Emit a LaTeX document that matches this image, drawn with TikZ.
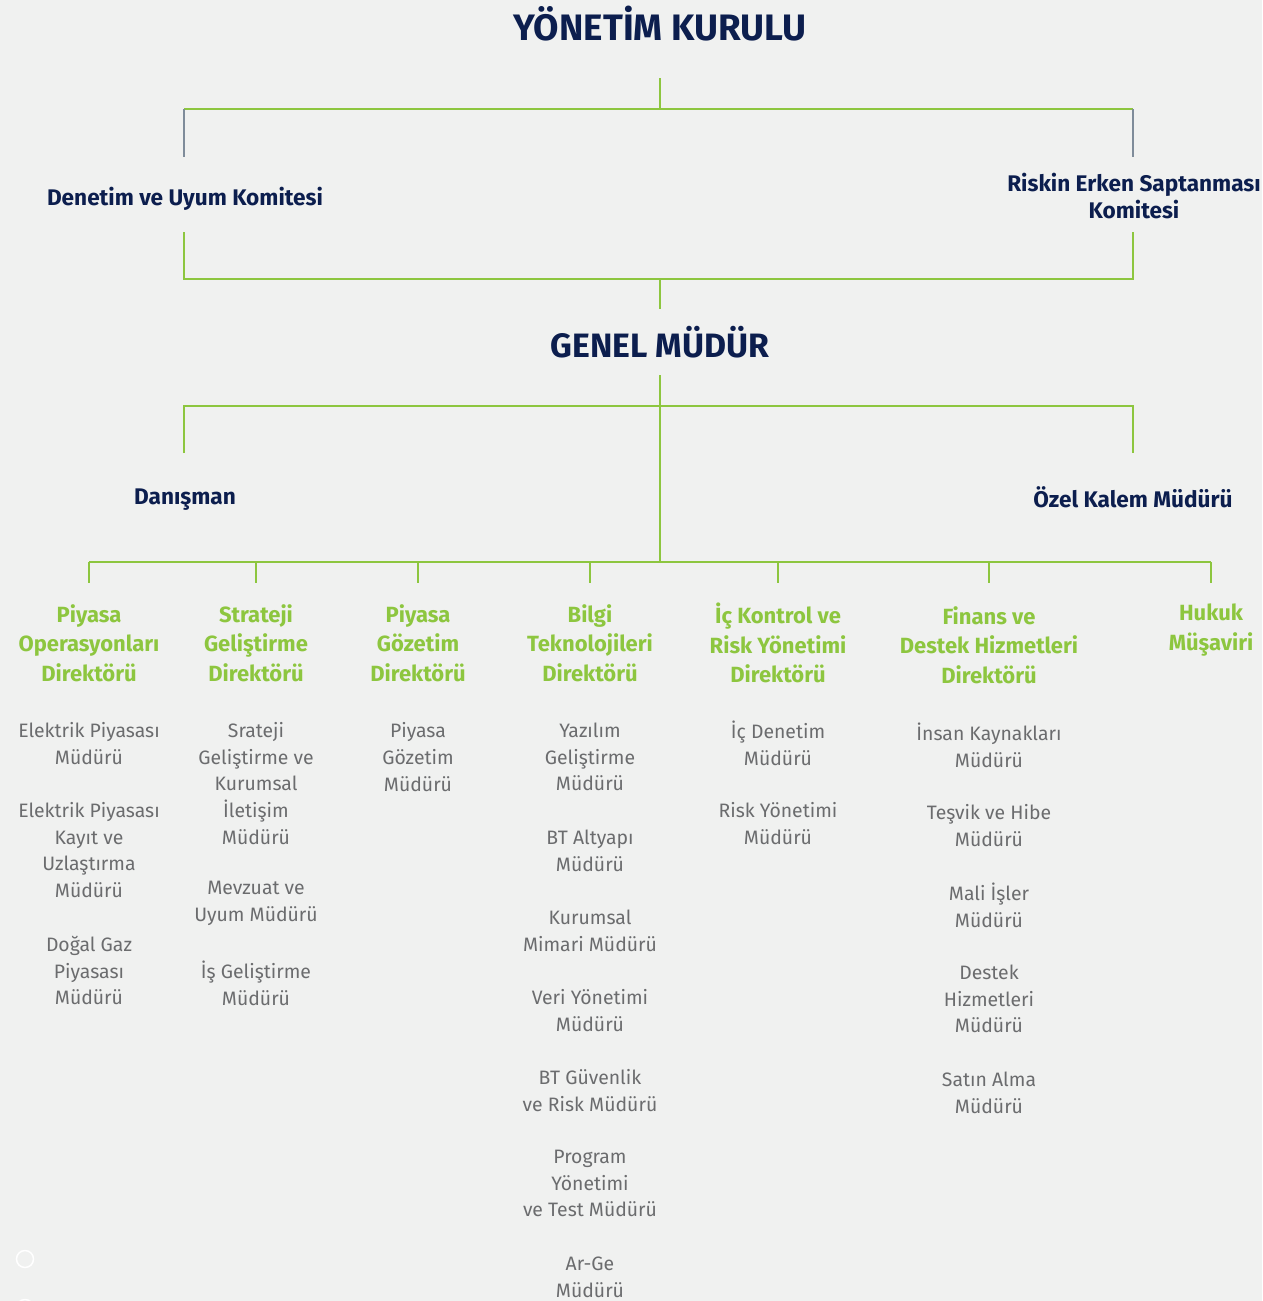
\documentclass[tikz,border=0pt]{standalone}
\usepackage{fontspec}
\setmainfont{Fira Sans}
\usetikzlibrary{positioning}
\definecolor{navy}{HTML}{0C1E4E}
\definecolor{leaf}{HTML}{8DC63F}
\definecolor{slate}{HTML}{7F8C9A}
\definecolor{txtgray}{HTML}{6B6C6E}
\definecolor{bgpaper}{HTML}{F0F1F0}
\tikzset{board node/.style={text=navy,font=\bfseries\fontsize{22.6}{27}\selectfont,align=center,inner sep=0pt},}
\tikzset{director node/.style={text=leaf,font=\bfseries\fontsize{22}{29.5}\selectfont,align=center,inner sep=0pt},}
\tikzset{manager node/.style={text=txtgray,font=\fontsize{19.4}{26.7}\selectfont,align=center,inner sep=0pt},}
\tikzset{green line/.style={draw=leaf,line width=2pt},}
\tikzset{slate line/.style={draw=slate,line width=2pt},}

\begin{document}
\begin{tikzpicture}[x=1pt,y=-1pt]
     \fill[bgpaper] (0,0) rectangle (1262,1301);
     \useasboundingbox (0,0) rectangle (1262,1301);

     % board and committees
     \node[board node,font=\bfseries\fontsize{36.8}{42}\selectfont] (yk) at (660,24) {YÖNETİM KURULU};
     \node[board node] (dk) at (185,199) {Denetim ve Uyum Komitesi};
     \node[board node] (rk) at (1134,196.5) {Riskin Erken Saptanması\\Komitesi};
     \node[board node,font=\bfseries\fontsize{33.8}{38}\selectfont] (gm) at (660,342) {GENEL MÜDÜR};
     \node[board node] (dn) at (185,500) {Danışman};
     \node[board node] (ok) at (1133,497) {Özel Kalem Müdürü};

     \coordinate (yk-s) at (660,78);
     \coordinate (j1) at (660,109);
     \coordinate (dk-n) at (184,157);
     \coordinate (rk-n) at (1133,157);
     \coordinate (dk-s) at (184,232);
     \coordinate (rk-s) at (1133,232);
     \coordinate (j2) at (660,279);
     \coordinate (gm-n) at (660,309);
     \coordinate (gm-s) at (660,375);
     \coordinate (j3) at (660,406);
     \coordinate (dn-n) at (184,453);
     \coordinate (ok-n) at (1133,453);
     \coordinate (bus) at (660,562);

     \path[green line] (yk-s) -- (j1);
     \path[green line] (dk-n |- j1) -- (rk-n |- j1);
     \path[slate line] (dk-n |- j1) -- (dk-n);
     \path[slate line] (rk-n |- j1) -- (rk-n);
     \path[green line] (dk-s) |- (j2) -| (rk-s);
     \path[green line] (j2) -- (gm-n);
     \path[green line] (gm-s) -- (bus);
     \path[green line] (dn-n) |- (j3) -| (ok-n);

     % directors
     \node[director node] (d1) at (89,643) {Piyasa\\Operasyonları\\Direktörü};
     \node[director node] (d2) at (256,643) {Strateji\\Geliştirme\\Direktörü};
     \node[director node] (d3) at (418,643) {Piyasa\\Gözetim\\Direktörü};
     \node[director node] (d4) at (590,643) {Bilgi\\Teknolojileri\\Direktörü};
     \node[director node] (d5) at (778,643) {İç Kontrol ve\\Risk Yönetimi\\Direktörü};
     \node[director node] (d6) at (989,645) {Finans ve\\Destek Hizmetleri\\Direktörü};
     \node[director node] (d7) at (1211,630) {Hukuk\\Müşaviri};

     \foreach \d/\x in {d1/89,d2/256,d3/418,d4/590,d5/778,d6/989,d7/1211}
       \coordinate (\d-top) at (\x,583);
     \path[green line] (d1-top |- bus) -- (d7-top |- bus);
     \foreach \d in {d1,d2,d3,d4,d5,d6,d7}
       \path[green line] (\d-top |- bus) -- (\d-top);

     % managers
     \node[manager node] (m11) at (89,743.5) {Elektrik Piyasası\\Müdürü};
     \node[manager node] (m12) at (89,850) {Elektrik Piyasası\\Kayıt ve\\Uzlaştırma\\Müdürü};
     \node[manager node] (m13) at (89,970.5) {Doğal Gaz\\Piyasası\\Müdürü};

     \node[manager node] (m21) at (256,783.5) {Srateji\\Geliştirme ve\\Kurumsal\\İletişim\\Müdürü};
     \node[manager node] (m22) at (256,903.5) {Mevzuat ve\\Uyum Müdürü};
     \node[manager node] (m23) at (256,983.5) {İş Geliştirme\\Müdürü};

     \node[manager node] (m31) at (418,757) {Piyasa\\Gözetim\\Müdürü};

     \node[manager node] (m41) at (590,757) {Yazılım\\Geliştirme\\Müdürü};
     \node[manager node] (m42) at (590,850.5) {BT Altyapı\\Müdürü};
     \node[manager node] (m43) at (590,930.5) {Kurumsal\\Mimari Müdürü};
     \node[manager node] (m44) at (590,1010.5) {Veri Yönetimi\\Müdürü};
     \node[manager node] (m45) at (590,1090.5) {BT Güvenlik\\ve Risk Müdürü};
     \node[manager node] (m46) at (590,1183.5) {Program\\Yönetimi\\ve Test Müdürü};
     \node[manager node] (m47) at (590,1277) {Ar-Ge\\Müdürü};

     \node[manager node] (m51) at (778,743.5) {İç Denetim\\Müdürü};
     \node[manager node] (m52) at (778,823.5) {Risk Yönetimi\\Müdürü};

     \node[manager node] (m61) at (989,745.5) {İnsan Kaynakları\\Müdürü};
     \node[manager node] (m62) at (989,825.5) {Teşvik ve Hibe\\Müdürü};
     \node[manager node] (m63) at (989,905.5) {Mali İşler\\Müdürü};
     \node[manager node] (m64) at (989,999) {Destek\\Hizmetleri\\Müdürü};
     \node[manager node] (m65) at (989,1092.5) {Satın Alma\\Müdürü};

     % corner marks
     \draw[white,line width=1.5pt] (25,1259) circle (8.5);
     \draw[white,line width=1.5pt] (25,1308) circle (8.5);
\end{tikzpicture}
\end{document}
